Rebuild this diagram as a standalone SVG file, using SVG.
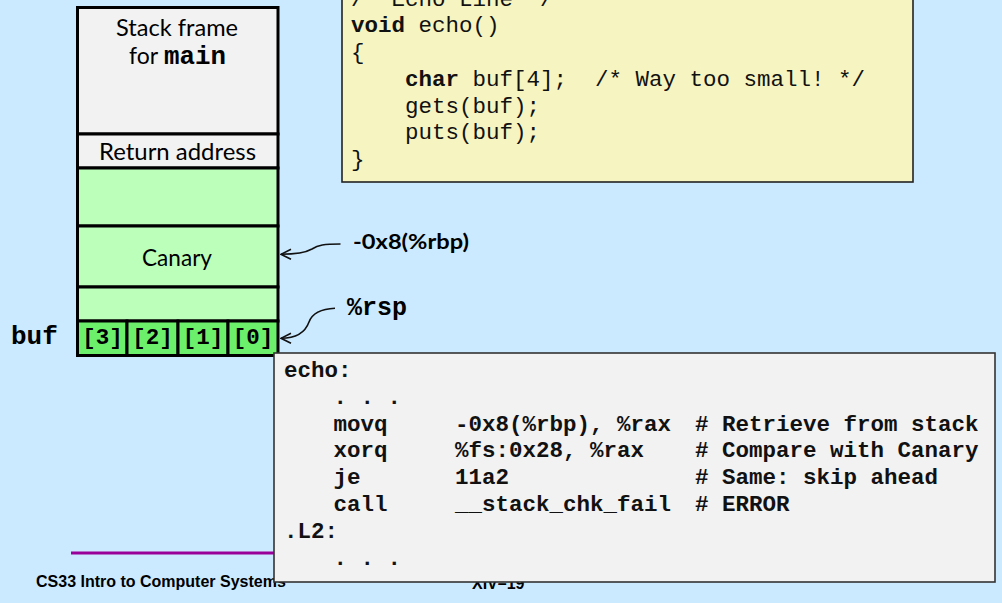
<svg xmlns="http://www.w3.org/2000/svg" width="1002" height="603" viewBox="0 0 1002 603">
  <defs>
    <style>
      .cell { stroke: #000; stroke-width: 3; }
      .frame { fill: #f2f2f2; }
      .pad { fill: #bbffbb; }
      .byte { fill: #6cf06c; }
      .lbl { font-family: Lato, "Open Sans", "Liberation Sans", sans-serif; font-size: 23px; fill: #000; }
      .lblb { font-family: Lato, "Open Sans", "Liberation Sans", sans-serif; font-size: 20px; font-weight: bold; fill: #000; }
      .mono { font-family: "Liberation Mono", "Courier New", monospace; fill: #000; }
      .code { font-family: "Liberation Mono", "Courier New", monospace; font-size: 22.5px; fill: #111; }
      .asm { font-family: "Liberation Mono", "Courier New", monospace; font-size: 22.5px; font-weight: bold; fill: #111; }
      .b { font-weight: bold; }
      .wire { fill: none; stroke: #111; stroke-width: 1.6; }
      .foot { font-family: "Liberation Sans", Arial, sans-serif; font-size: 16px; font-weight: bold; fill: #000; }
    </style>
    <marker id="vee" viewBox="0 0 12 12" refX="11" refY="6" markerWidth="12" markerHeight="12" markerUnits="userSpaceOnUse" orient="auto">
      <path d="M1,1 L11,6 L1,11" fill="none" stroke="#111" stroke-width="1.6"/>
    </marker>
  </defs>

  <!-- slide background -->
  <rect x="0" y="0" width="1002" height="603" fill="#cceaff"/>

  <!-- footer: rule, course name and page number -->
  <g id="footer">
    <line x1="71" y1="553" x2="930" y2="553" stroke="#990099" stroke-width="3"/>
    <text class="foot" x="36" y="587">CS33 Intro to Computer Systems</text>
    <text class="foot" x="472" y="589">XIV–19</text>
  </g>

  <!-- C source of echo() -->
  <g id="source">
    <rect x="342" y="-6" width="571" height="188" fill="#f6f4c0" stroke="#222" stroke-width="1.6"/>
    <text class="code" x="351" y="5.5">/* Echo Line */</text>
    <text class="code" y="32.3"><tspan x="351" class="b">void</tspan><tspan x="418.5">echo()</tspan></text>
    <text class="code" x="351" y="59">{</text>
    <text class="code" y="85.8"><tspan x="405" class="b">char</tspan><tspan x="472.5">buf[4];</tspan><tspan x="595">/* Way too small! */</tspan></text>
    <text class="code" x="405" y="112.5">gets(buf);</text>
    <text class="code" x="405" y="139.3">puts(buf);</text>
    <text class="code" x="351" y="166">}</text>
  </g>

  <!-- stack layout -->
  <g id="main-frame">
    <rect class="cell frame" x="77.5" y="7.5" width="200.5" height="126.5"/>
    <text class="lbl" x="116" y="36" textLength="122" lengthAdjust="spacingAndGlyphs">Stack frame</text>
    <text class="lbl" x="129" y="64">for</text>
    <text class="mono b" x="164" y="64" font-size="26" textLength="62" lengthAdjust="spacingAndGlyphs">main</text>
  </g>
  <g id="return-address">
    <rect class="cell frame" x="77.5" y="134" width="200.5" height="34"/>
    <text class="lbl" x="99" y="160" textLength="157" lengthAdjust="spacingAndGlyphs">Return address</text>
  </g>
  <g id="pad-upper">
    <rect class="cell pad" x="77.5" y="168" width="200.5" height="58"/>
  </g>
  <g id="canary">
    <rect class="cell pad" x="77.5" y="226" width="200.5" height="61"/>
    <text class="lbl" x="142" y="266" textLength="70" lengthAdjust="spacingAndGlyphs">Canary</text>
  </g>
  <g id="pad-lower">
    <rect class="cell pad" x="77.5" y="287" width="200.5" height="34"/>
  </g>
  <g id="buf">
    <rect class="cell byte" x="77.5" y="321" width="49.5" height="34.5"/>
    <rect class="cell byte" x="127" y="321" width="51" height="34.5"/>
    <rect class="cell byte" x="178" y="321" width="50" height="34.5"/>
    <rect class="cell byte" x="228" y="321" width="50" height="34.5"/>
    <text class="mono b" font-size="22.5" x="102.5" y="344" text-anchor="middle">[3]</text>
    <text class="mono b" font-size="22.5" x="152.5" y="344" text-anchor="middle">[2]</text>
    <text class="mono b" font-size="22.5" x="203" y="344" text-anchor="middle">[1]</text>
    <text class="mono b" font-size="22.5" x="253" y="344" text-anchor="middle">[0]</text>
    <text class="mono b" font-size="26" x="11" y="344">buf</text>
  </g>

  <!-- pointer labels -->
  <g id="rbp-label">
    <text class="lblb" x="353" y="249" textLength="116" lengthAdjust="spacingAndGlyphs">-0x8(%rbp)</text>
  </g>
  <g id="rsp-label">
    <text class="mono b" font-size="25" x="347" y="315">%rsp</text>
  </g>

  <!-- pointer arrows -->
  <g id="connectors">
    <path class="wire" d="M340.5,244 C324,244 318,245 312,249 C305,253 296,254.3 281,254.3" marker-end="url(#vee)"/>
    <path class="wire" d="M335,308.3 C319,309 312,314 309,322 C305,333 295,338.3 281,338.3" marker-end="url(#vee)"/>
  </g>

  <!-- assembly listing of echo -->
  <g id="assembly">
    <rect x="274" y="353" width="721" height="229" fill="#f2f2f2" stroke="#333" stroke-width="1.6"/>
    <text class="asm" x="284" y="377">echo:</text>
    <text class="asm" x="333.5" y="403.8">. . .</text>
    <text class="asm" y="430.6"><tspan x="333.5">movq</tspan><tspan x="455">-0x8(%rbp), %rax</tspan><tspan x="695"># Retrieve from stack</tspan></text>
    <text class="asm" y="457.4"><tspan x="333.5">xorq</tspan><tspan x="455">%fs:0x28, %rax</tspan><tspan x="695"># Compare with Canary</tspan></text>
    <text class="asm" y="484.2"><tspan x="333.5">je</tspan><tspan x="455">11a2</tspan><tspan x="695"># Same: skip ahead</tspan></text>
    <text class="asm" y="511"><tspan x="333.5">call</tspan><tspan x="455">__stack_chk_fail</tspan><tspan x="695"># ERROR</tspan></text>
    <text class="asm" x="284" y="537.8">.L2:</text>
    <text class="asm" x="333.5" y="564.6">. . .</text>
  </g>
</svg>
